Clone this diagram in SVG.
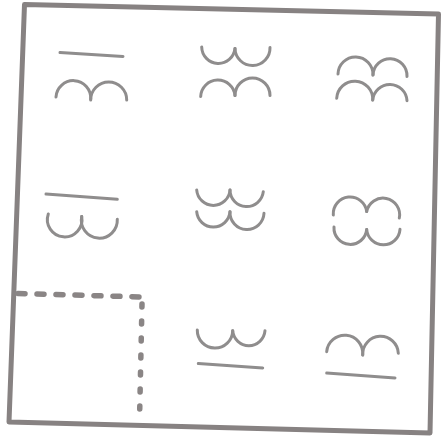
<svg xmlns="http://www.w3.org/2000/svg" width="441" height="439" viewBox="0 0 441 439">
<style>
.frame{fill:none;stroke:#878282;stroke-width:5;stroke-linejoin:round}
.sym{fill:none;stroke:#8f8d8d;stroke-width:3;stroke-linecap:round}
.dash{fill:none;stroke:#8a8585;stroke-width:5.5;stroke-linecap:round}
</style>
<rect width="441" height="439" fill="#ffffff"/>
<g id="frame">
<polygon class="frame" points="24.5,4.5 438.5,14 430,433 9,422"/>
</g>
<g id="cell-1-1" class="sym">
<path d="M60 52.5 L123 56.5"/>
<path d="M56 97 A17.3 17.3 0 0 1 90.7 99"/>
<path d="M90.7 100 A18 18 0 0 1 126.7 100"/>
</g>
<g id="cell-1-2" class="sym">
<path d="M201.7 47 A16.7 16.7 0 0 0 235 48.5"/>
<path d="M235 48.5 A17.5 17.5 0 0 0 270 47.5"/>
<path d="M200.7 96.5 A17.2 17.2 0 0 1 235 95.5"/>
<path d="M235 95.5 A17.5 17.5 0 0 1 270 95.5"/>
</g>
<g id="cell-1-3" class="sym">
<path d="M338 74 A17.5 17.5 0 0 1 373 75"/>
<path d="M373 75 A17 17 0 0 1 407 76.5"/>
<path d="M336.7 98.3 A18 18 0 0 1 372.7 100"/>
<path d="M372.7 100 A17.2 17.2 0 0 1 407 100.7"/>
</g>
<g id="cell-2-1" class="sym">
<path d="M46 194 L117.3 199.3"/>
<path d="M48.3 214 A17.3 17.3 0 1 0 81.7 216.5"/>
<path d="M81.7 216.5 A18 18 0 1 0 117.3 219.3"/>
</g>
<g id="cell-2-2" class="sym">
<path d="M196.7 190 A16.7 16.7 0 0 0 230 190"/>
<path d="M230 190 A16.7 16.7 0 0 0 263.3 191.7"/>
<path d="M196.7 211.7 A16.7 16.7 0 0 0 230 211.7"/>
<path d="M230 211.7 A17 17 0 0 0 264 213.3"/>
</g>
<g id="cell-2-3" class="sym">
<path d="M333.3 215 A16.8 16.8 0 0 1 366.7 211.5"/>
<path d="M366.7 211.5 A16.4 16.4 0 0 1 399.3 218"/>
<path d="M334 227 A16.4 16.4 0 0 0 366.7 229.5"/>
<path d="M366.7 229.5 A16.7 16.7 0 0 0 400 229.3"/>
</g>
<g id="cell-3-1">
<path class="dash" d="M18 293.5 L143 297" stroke-dasharray="7 12"/>
<path class="dash" d="M142 304 L139.5 420" stroke-dasharray="3 14"/>
</g>
<g id="cell-3-2" class="sym">
<path d="M197.3 330 A17.7 17.7 0 0 0 232.7 330.7"/>
<path d="M232.7 330.7 A16.2 16.2 0 0 0 265 330.7"/>
<path d="M198.3 363.5 L262.7 368"/>
</g>
<g id="cell-3-3" class="sym">
<path d="M326.7 351.7 A18 18 0 0 1 362.7 355"/>
<path d="M362.7 355 A17.8 17.8 0 0 1 398.3 353.3"/>
<path d="M326.7 373 L395 378"/>
</g>
</svg>
